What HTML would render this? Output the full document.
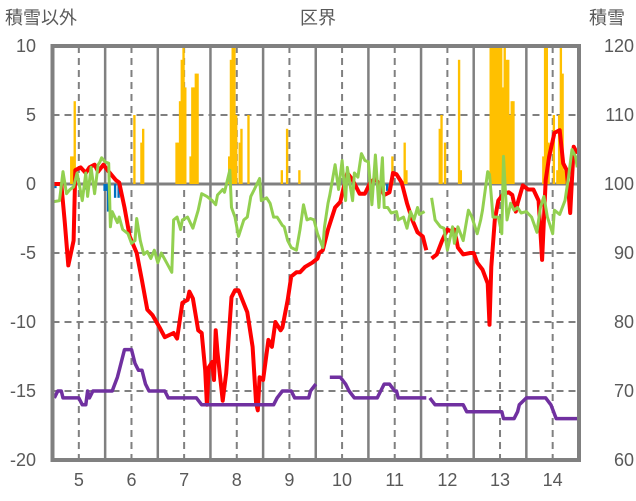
<!DOCTYPE html>
<html><head><meta charset="utf-8"><style>
body{margin:0;background:#fff;}
svg{display:block;font-family:"Liberation Sans","Noto Sans CJK JP",sans-serif;}
</style></head><body>
<svg id="chart" width="636" height="501" viewBox="0 0 636 501" xmlns="http://www.w3.org/2000/svg">
<defs><clipPath id="pc"><rect x="52.5" y="46" width="526.5" height="414"/></clipPath></defs>
<text x="5" y="24" font-size="18" fill="#595959">積雪以外</text>
<text x="318" y="24" font-size="18" fill="#595959" text-anchor="middle">区界</text>
<text x="589" y="24" font-size="18" fill="#595959">積雪</text>
<g id="grid"></g>
<g id="bars" clip-path="url(#pc)"></g>
<g id="lines" clip-path="url(#pc)"></g>
<g id="axes"></g>
</svg>
<script>
// Left axis ticks / right axis ticks / month labels
const leftTicks = [10,5,0,-5,-10,-15,-20];
const rightTicks = [120,110,100,90,80,70,60];
const months = ["5","6","7","8","9","10","11","12","13","14"];
// Day index (0..300) and values
const redDays = [0,5,7,9,12,13,16,19,21,24,26,29,32,36,38,41,44,48,51,54,57,61,64,69,71,74,77,78,80,83,85,87,88,89,91,92,93,94,97,99,102,104,106,111,114,116,117,118,120,123,125,127,130,131,134,136,139,141,144,148,151,152,154,157,161,164,166,168,171,175,178,181,184,187,189,192,194,196,199,202,205,208,211,213,null,216,219,222,225,228,229,231,234,238,240,242,245,248,249,250,252,254,257,260,262,264,265,268,271,274,277,279,281,283,286,289,291,293,295,297,299];
const redVals = [0,0,-2.8,-5.9,-4.1,1.0,1.2,0.8,1.2,1.4,0.9,1.4,0.9,0.3,0.1,-1.7,-3.8,-5.0,-7.0,-9.1,-9.5,-10.4,-11.1,-10.8,-11.2,-8.6,-8.4,-7.8,-8.3,-10.6,-10.8,-13.5,-16.0,-13.3,-12.9,-14.2,-10.6,-12.2,-15.7,-13.7,-8.2,-7.7,-7.7,-9.3,-11.8,-15.9,-16.4,-14.0,-14.2,-11.3,-11.8,-10.0,-10.6,-10.4,-8.4,-6.7,-6.4,-6.4,-6.0,-5.7,-5.4,-5.0,-4.8,-3.3,-1.7,-1.3,-0.2,0.8,0.3,-0.7,-0.7,0.1,0.4,-0.2,-0.8,-0.6,0.8,0.7,0.1,-1.4,-2.6,-3.5,-3.8,-4.8,null,-5.4,-5.1,-4.1,-3.3,-3.5,-3.3,-4.6,-5.1,-5.0,-5.0,-5.7,-6.2,-7.2,-10.2,-6.0,-2.6,-1.2,-0.7,-0.6,-0.8,-2.0,-1.4,-0.1,-0.4,-0.4,-1.2,-5.5,0.3,2.0,3.7,3.9,1.5,1.0,-2.1,2.7,2.2];
const greenDays = [0,4,6,8,10,12,14,17,19,20,22,24,26,27,28,30,32,33,34,37,38,40,43,45,47,48,50,52,54,56,58,60,62,65,68,69,71,73,74,77,80,83,85,88,91,93,94,97,98,101,102,104,106,109,111,113,115,118,119,122,124,126,128,131,132,134,136,139,141,143,145,147,149,151,154,155,157,158,161,163,165,167,168,171,172,174,176,178,180,182,184,186,188,189,191,193,196,197,200,202,204,206,208,209,212,null,216,218,221,223,225,228,229,231,234,237,239,242,244,245,248,249,251,254,256,257,259,261,263,265,267,270,273,276,278,280,282,285,286,289,292,294,296,298,299];
const greenVals = [-1.3,-1.2,0.9,-0.7,-0.4,-0.2,0.8,-1.2,0.8,-0.9,1.2,-0.7,1.4,1.6,1.9,1.6,1.5,-3.1,-2.0,-2.8,-2.4,-3.3,-3.6,-4.3,-4.1,-2.5,-4.1,-5.1,-4.9,-5.4,-4.8,-5.7,-5.0,-5.7,-6.4,-2.6,-2.4,-3.3,-2.6,-2.4,-3.2,-1.9,-0.7,-0.9,-1.2,-1.5,-0.8,-0.4,-0.6,1.0,-1.7,-2.4,-3.8,-2.6,-2.4,-0.9,-0.4,0.4,-1.2,-1.0,-1.4,-2.4,-2.4,-3.0,-3.1,-4.1,-4.6,-4.8,-3.3,-1.5,-2.6,-2.5,-2.6,-3.6,-4.6,-3.1,-1.4,-0.8,1.4,-0.4,1.7,-1.2,1.2,-1.2,0.8,0.5,2.2,1.7,1.6,-1.5,2.1,-1.7,1.9,-1.7,-1.7,-2.1,-2.0,-2.6,-2.4,-3.2,-2.0,-2.6,-1.7,-2.2,-2.0,null,-1.0,-2.6,-3.1,-3.2,-4.8,-3.1,-4.3,-3.1,-4.1,-1.9,-2.4,-3.6,-2.6,-1.9,0.9,0.7,-2.4,-2.4,-3.6,2.0,-2.6,-1.4,-1.9,-1.7,-2.1,-2.0,-2.4,-3.5,-1.7,-0.9,-2.4,-3.6,-1.9,-2.2,-1.2,0.5,2.5,2.0,1.2];
const snowDays = [1,3,5,6,15,17,19,20,21,23,34,37,38,41,45,47,49,51,53,55,64,66,82,85,126,128,131,136,138,146,147,150,null,158,164,167,169,172,185,187,189,192,195,196,197,213,null,215,218,234,236,256,257,263,265,266,270,281,284,287,299];
const snowVals = [69,70,70,69,69,68,68,70,69,70,70,72,73,76,76,74,73,73,71,70,70,69,69,68,68,69,70,70,69,69,70,71,null,72,72,71,70,69,69,70,71,71,70,70,69,69,null,69,68,68,67,67,66,66,67,68,69,69,68,66,66];
const otherDays = [10,11,12,46,50,51,70,71,72,73,74,75,78,79,80,81,82,100,101,102,103,104,106,107,111,130,133,140,193,200,201,220,221,223,231,232,249,250,251,252,253,254,255,256,257,258,259,260,261,262,279,280,281,282,285,287,288,289,290,291,1,18,29,30,31,35,37,190];
const otherVals = [2,2,6,5,3,4,3,3,6,9,12,7,2,7,7,8,8,2,9,12,12,5,3,4,5,1,4,1,2,3,1,4,5,3,9,1,12,12,12,12,12,12,12,7,12,9,9,5,6,6,2,12,12,3,5,1,5,12,8,1,-0.3,-0.4,-0.5,-0.5,-2.0,-1.0,-1.0,-0.5];

const X0=52.5,X1=579,YT=46,YB=460,NDAYS=300;
const xd=d=>X0+d*(X1-X0)/NDAYS;
const yl=v=>YT+(10-v)*(YB-YT)/30;
const yr=v=>YT+(120-v)*(YB-YT)/60;
const NS="http://www.w3.org/2000/svg";
function mk(tag,attrs,parent){const e=document.createElementNS(NS,tag);for(const k in attrs)e.setAttribute(k,attrs[k]);parent.appendChild(e);return e;}
const grid=document.getElementById('grid'),bars=document.getElementById('bars'),lines=document.getElementById('lines'),axes=document.getElementById('axes');
const mw=(X1-X0)/10;
leftTicks.forEach((t,i)=>{
  if(t!==10&&t!==-20&&t!==0){const g=mk('line',{x1:X0,x2:X1,y1:yl(t),y2:yl(t),stroke:'#808080','stroke-width':2,'stroke-dasharray':'7,5'},grid);
  
  }
  const tl=mk('text',{x:36,y:yl(t)+6,'font-size':18,fill:'#595959','text-anchor':'end'},axes);tl.textContent=t;
  
  
  const tr=mk('text',{x:634,y:yl(t)+6,'font-size':18,fill:'#595959','text-anchor':'end'},axes);tr.textContent=rightTicks[i];
  
  
});
months.forEach((m,i)=>{
  const cx=X0+(i+0.5)*mw;
  const d=mk('line',{x1:cx,x2:cx,y1:YT,y2:YB,stroke:'#808080','stroke-width':2,'stroke-dasharray':'7,5'},grid);
  
  
  if(i>0){const s=mk('line',{x1:X0+i*mw,x2:X0+i*mw,y1:YT,y2:YB,stroke:'#808080','stroke-width':2.5},grid);
  
  }
  const t=mk('text',{x:cx,y:486,'font-size':18,fill:'#595959','text-anchor':'middle'},axes);t.textContent=m;
  
  
});
const bw=(X1-X0)/NDAYS+0.6;
otherDays.forEach((d,i)=>{
  const v=otherVals[i];const y0=yl(0),y1=yl(v);
  const r=mk('rect',{x:xd(d),y:Math.min(y0,y1),width:bw,height:Math.abs(y1-y0),fill:v>=0?'#FFC000':'#0070C0'},bars);
  
  
});
const z=mk('line',{x1:X0,x2:X1,y1:yl(0),y2:yl(0),stroke:'#808080','stroke-width':3},grid);


function path(days,vals,yf){let s='',pen=false;days.forEach((d,i)=>{if(d===null||vals[i]===null){pen=false;return;}s+=(pen?'L':'M')+xd(d).toFixed(1)+','+yf(vals[i]).toFixed(1);pen=true;});return s;}
const pr=mk('path',{d:path(redDays,redVals,yl),fill:'none',stroke:'#FF0000','stroke-width':4,'stroke-linejoin':'round'},lines);


const pg=mk('path',{d:path(greenDays,greenVals,yl),fill:'none',stroke:'#92D050','stroke-width':3,'stroke-linejoin':'round'},lines);


const pp=mk('path',{d:path(snowDays,snowVals,yr),fill:'none',stroke:'#7030A0','stroke-width':3.5,'stroke-linejoin':'round'},lines);


const b=mk('rect',{x:X0,y:YT,width:X1-X0,height:YB-YT,fill:'none',stroke:'#808080','stroke-width':4},axes);


</script>
</body></html>
